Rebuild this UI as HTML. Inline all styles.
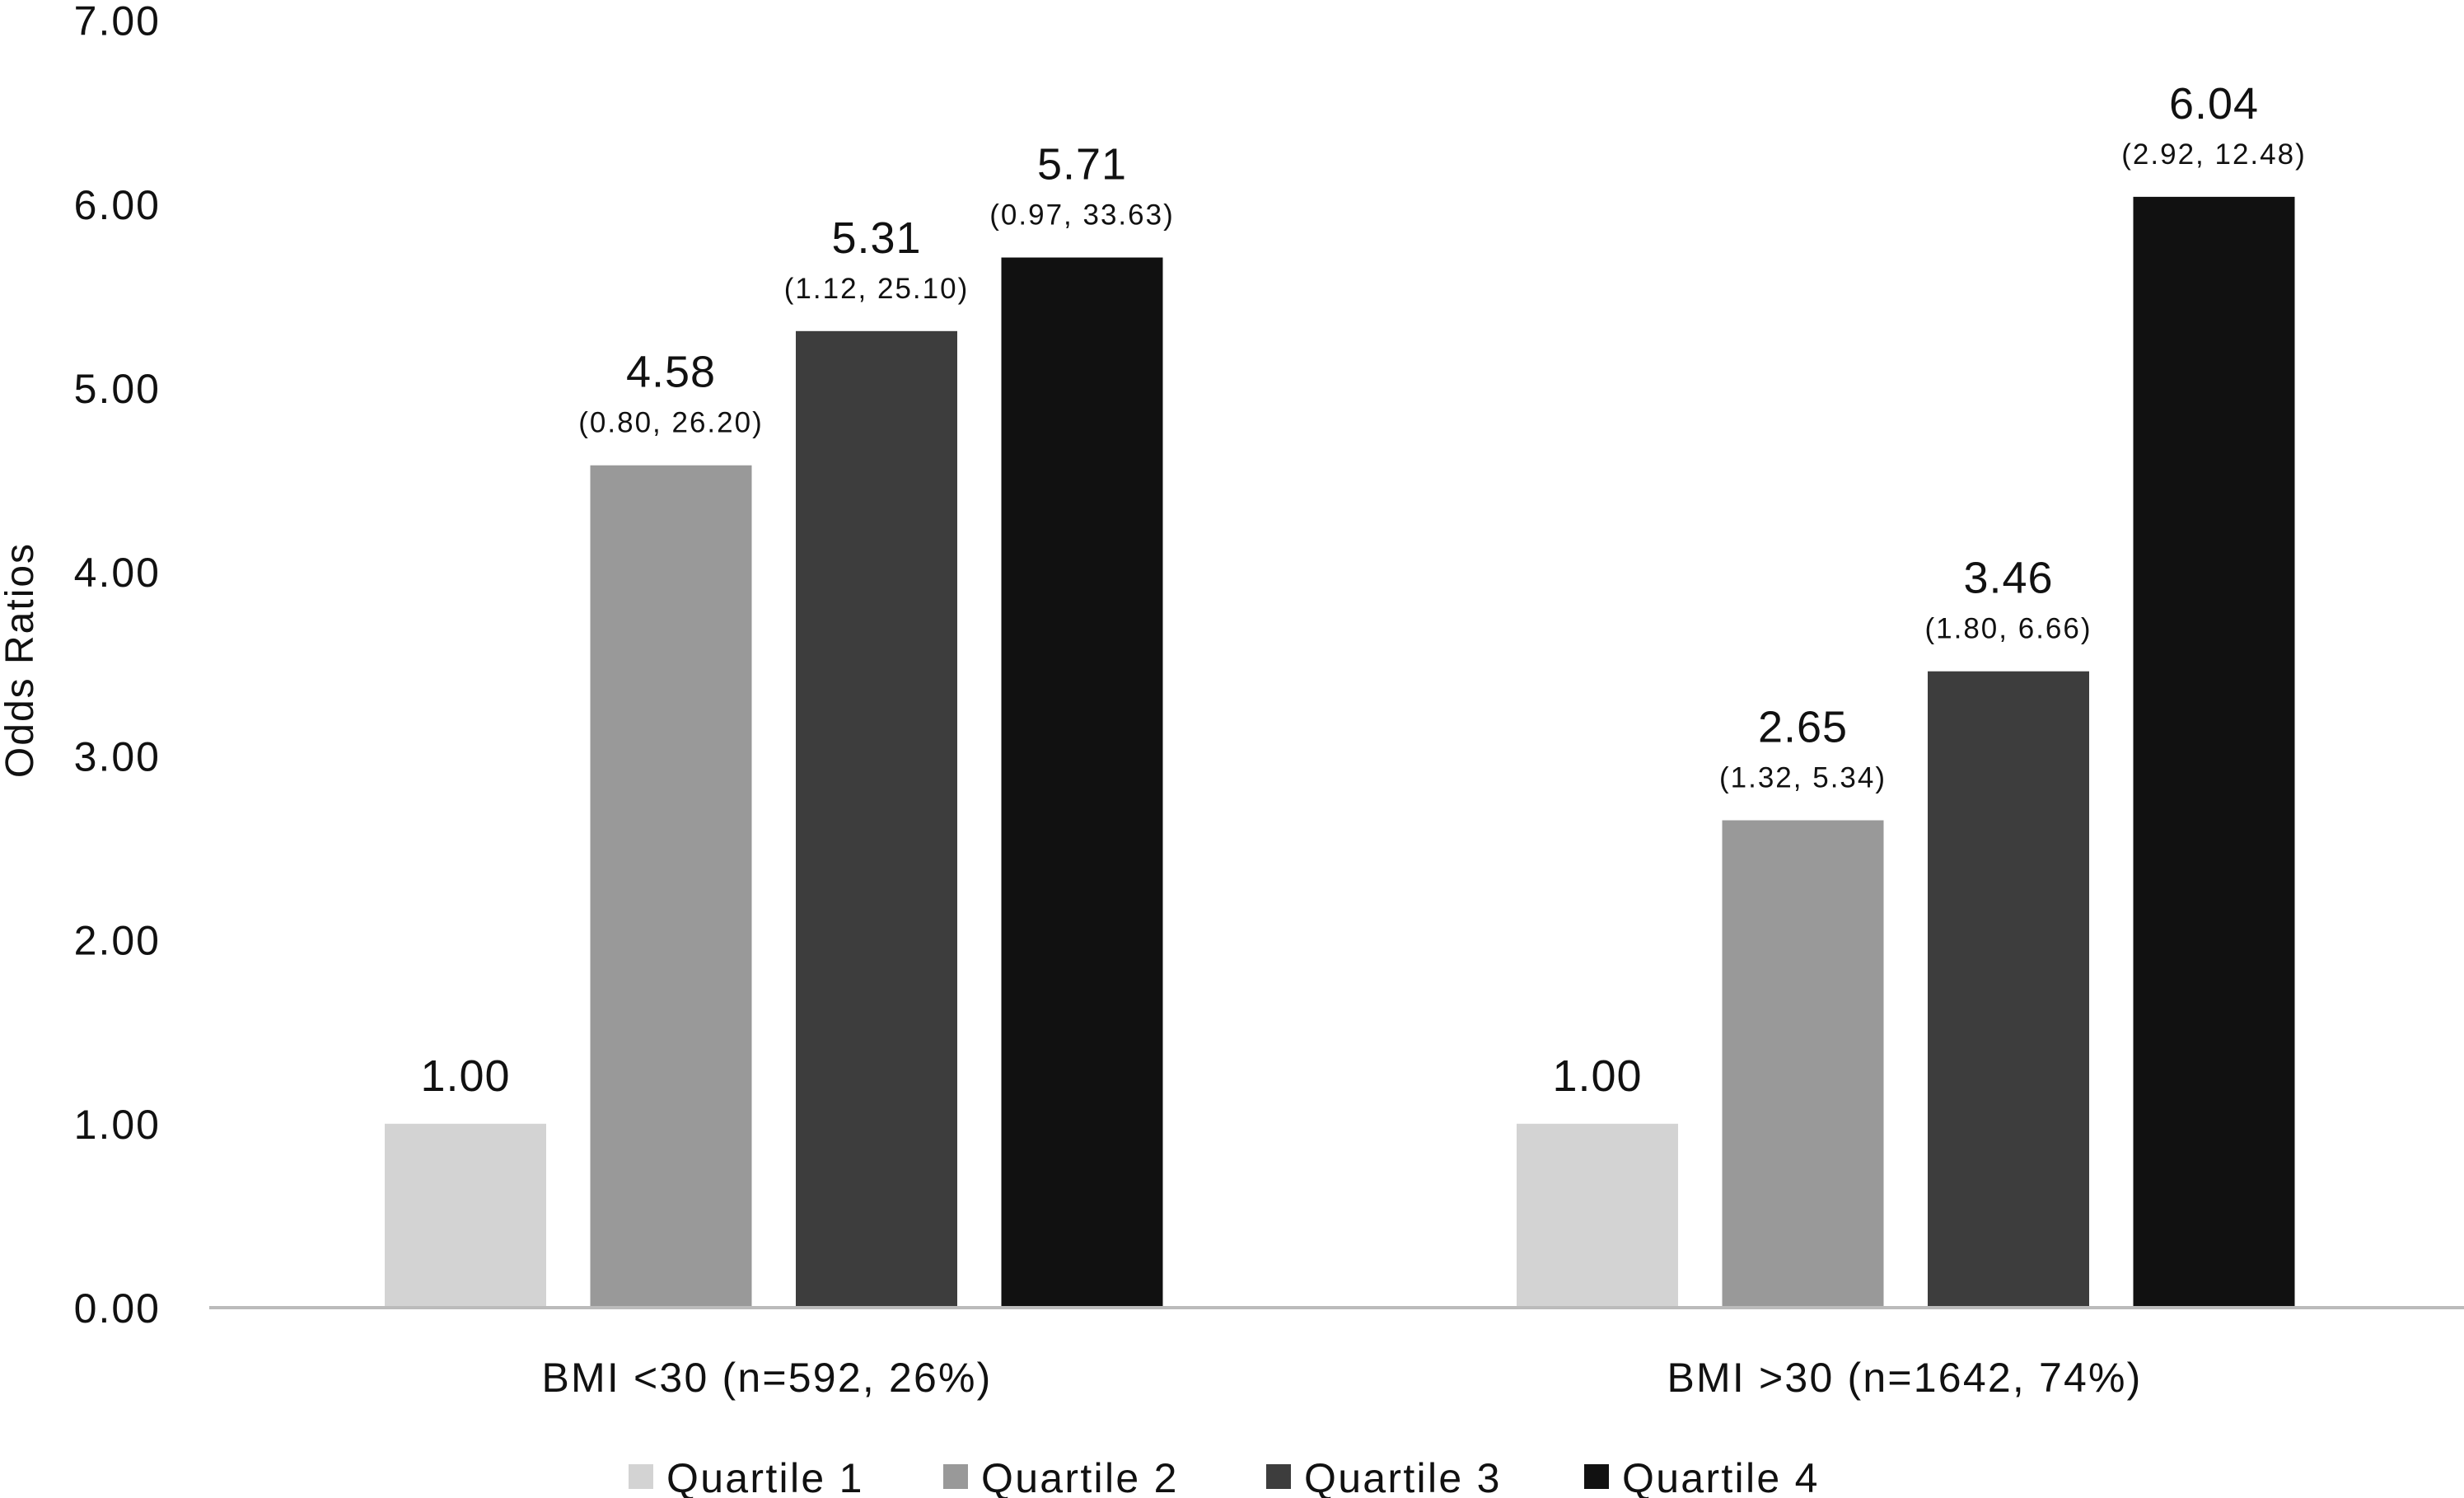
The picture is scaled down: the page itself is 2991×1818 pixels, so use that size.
<!DOCTYPE html>
<html><head><meta charset="utf-8"><style>
html,body{margin:0;padding:0;background:#fff;}
svg{display:block;font-family:"Liberation Sans","DejaVu Sans",sans-serif;}
</style></head><body>
<svg id="chart" width="2991" height="1818" viewBox="0 0 2991 1818">
<text x="0" y="0" transform="translate(40,801) rotate(-90)" text-anchor="middle" font-size="48" letter-spacing="2" fill="#111">Odds Ratios</text>
<g id="yticks"></g>
<g id="bars"></g>
<line x1="254" x2="2991" y1="1587" y2="1587" stroke="#bbb" stroke-width="4"/>
<g id="cats"></g>
<g id="legend"></g>
</svg>
<script>
const categories = ["BMI <30 (n=592, 26%)", "BMI >30 (n=1642, 74%)"];
const seriesNames = ["Quartile 1", "Quartile 2", "Quartile 3", "Quartile 4"];
const q1Values = [1.00, 1.00];
const q2Values = [4.58, 2.65];
const q3Values = [5.31, 3.46];
const q4Values = [5.71, 6.04];
const q2CI = ["(0.80, 26.20)", "(1.32, 5.34)"];
const q3CI = ["(1.12, 25.10)", "(1.80, 6.66)"];
const q4CI = ["(0.97, 33.63)", "(2.92, 12.48)"];
const tickValues = [0, 1, 2, 3, 4, 5, 6, 7];

const NS = "http://www.w3.org/2000/svg";
const colors = ["#d3d3d3", "#999999", "#3d3d3d", "#111111"];
const series = [q1Values, q2Values, q3Values, q4Values];
const cis = [null, q2CI, q3CI, q4CI];
const y0 = 1587, unit = 223.2;
function yScale(v){ return y0 - v * unit; }
const groupStart = [467, 1841], barStep = 249.5, barW = 196;
function xBar(g, s){ return groupStart[g] + s * barStep; }
function mk(tag, attrs, parent){ const e = document.createElementNS(NS, tag); for (const k in attrs) e.setAttribute(k, attrs[k]); parent.appendChild(e); return e; }

const yt = document.getElementById("yticks");
tickValues.forEach(v => {
  const t = mk("text", {x: 195, y: yScale(v) + 18, "text-anchor": "end", "font-size": 50, "letter-spacing": 2, fill: "#111"}, yt);
  
  
  t.textContent = v.toFixed(2);
});

const bg = document.getElementById("bars");
categories.forEach((c, g) => {
  series.forEach((vals, s) => {
    const v = vals[g], x = xBar(g, s), top = yScale(v);
    const r = mk("rect", {x: x, y: top, width: barW, height: y0 - top, fill: colors[s]}, bg);
    
    
    const hasCI = cis[s] !== null;
    const lab = mk("text", {x: x + barW / 2, y: top - (hasCI ? 95 : 40), "text-anchor": "middle", "font-size": 54, "letter-spacing": 1, fill: "#111"}, bg);
    
    
    lab.textContent = v.toFixed(2);
    if (hasCI) {
      const ci = mk("text", {x: x + barW / 2, y: top - 40, "text-anchor": "middle", "font-size": 35, "letter-spacing": 2, fill: "#111"}, bg);
      
      
      ci.textContent = cis[s][g];
    }
  });
});

const cg = document.getElementById("cats");
const catCenters = [931, 2312];
categories.forEach((c, g) => {
  const t = mk("text", {x: catCenters[g], y: 1689, "text-anchor": "middle", "font-size": 50, "letter-spacing": 2.2, fill: "#111"}, cg);
  
  
  t.textContent = c;
});

const lg = document.getElementById("legend");
const legX = [763, 1145, 1537, 1923];
seriesNames.forEach((n, s) => {
  const r = mk("rect", {x: legX[s], y: 1777, width: 30, height: 30, fill: colors[s]}, lg);
  
  
  const t = mk("text", {x: legX[s] + 46, y: 1811, "font-size": 50, "letter-spacing": 2.3, fill: "#111"}, lg);
  
  
  t.textContent = n;
});
</script>
</body></html>
